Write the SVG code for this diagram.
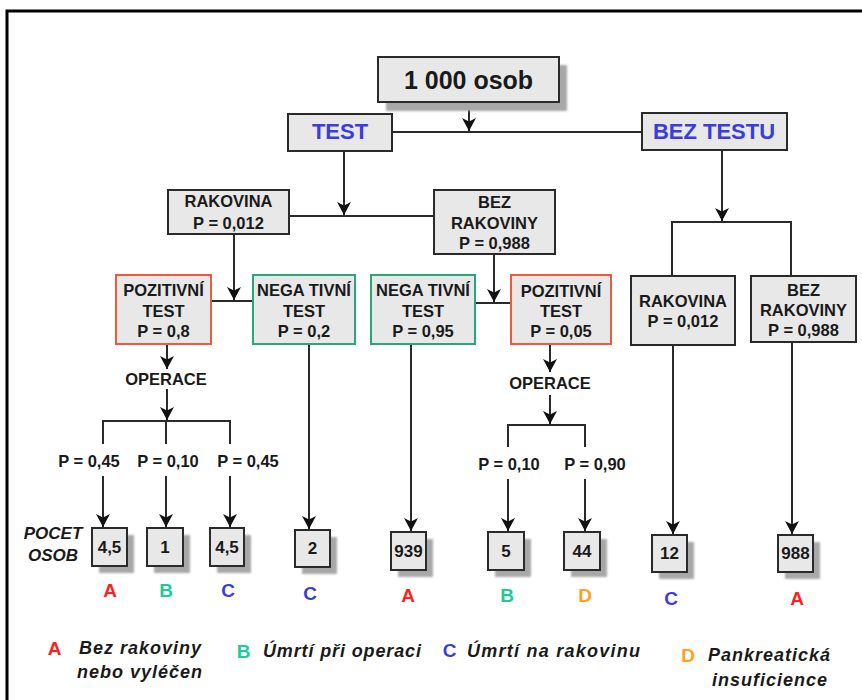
<svg xmlns="http://www.w3.org/2000/svg" width="862" height="700" viewBox="0 0 862 700">
<style>
.box{fill:#e8e8e8;stroke:#2a2a2a;stroke-width:2}
.poz{fill:#e8e8e8;stroke:#f05a3c;stroke-width:2}
.neg{fill:#e8e8e8;stroke:#2aa67c;stroke-width:2}
.sh{fill:#a8a8a8;filter:url(#blur)}
.t{font-family:"Liberation Sans",Arial,sans-serif;font-weight:bold;font-size:16.5px;fill:#1a1a1a;text-anchor:middle}
.big{font-size:25px}
.blue{font-size:22px;fill:#3c3cd8}
.num{font-size:17px}
.let{font-size:19px}
.lg{font-family:"Liberation Sans",Arial,sans-serif;font-weight:bold;font-style:italic;font-size:18px;fill:#1a1a1a}
.ln{stroke:#2a2a2a;stroke-width:2;fill:none}
.ar{stroke:#2a2a2a;stroke-width:2;fill:none;marker-end:url(#arr)}
.cA{fill:#ff2020}.cB{fill:#1ccc99}.cC{fill:#3c3cd8}.cD{fill:#ffa020}
</style>
<defs>
<filter id="blur" x="-20%" y="-20%" width="140%" height="140%"><feGaussianBlur stdDeviation="1.2"/></filter>
<marker id="arr" markerWidth="16" markerHeight="14" refX="13" refY="7" orient="auto" markerUnits="userSpaceOnUse">
<path d="M0,0 L13,7 L0,14 L3.5,7 z" fill="#111"/>
</marker>
</defs>
<rect x="7" y="11" width="880" height="720" fill="none" stroke="#000" stroke-width="3"/>

<g id="connectors">
<path class="ar" d="M469,102 V131"/>
<path class="ln" d="M392,132 H642"/>
<path class="ar" d="M344,151 V215"/>
<path class="ln" d="M289,216 H434"/>
<path class="ar" d="M722,150 V221"/>
<path class="ln" d="M672,276 V222 H791 V276"/>
<path class="ar" d="M234,234 V300"/>
<path class="ln" d="M211,301 H253"/>
<path class="ar" d="M494,254 V302"/>
<path class="ln" d="M475,303 H511"/>
<path class="ar" d="M167,344 V369"/>
<path class="ar" d="M167,389 V420"/>
<path class="ln" d="M103,444 V421 H230 V444 M166,421 V444"/>
<path class="ar" d="M103,476 V527"/>
<path class="ar" d="M166,476 V527"/>
<path class="ar" d="M230,476 V527"/>
<path class="ar" d="M309,344 V529"/>
<path class="ar" d="M411,344 V531"/>
<path class="ar" d="M550,344 V372"/>
<path class="ar" d="M550,395 V424"/>
<path class="ln" d="M508,447 V425 H585 V447"/>
<path class="ar" d="M508,479 V531"/>
<path class="ar" d="M585,479 V531"/>
<path class="ar" d="M673,345 V534"/>
<path class="ar" d="M792,342 V534"/>
</g>

<g id="n-osob">
<rect class="sh" x="386" y="65" width="181" height="46"/>
<rect class="box" x="378" y="57" width="181" height="45"/>
<text class="t big" x="468.5" y="89">1 000 osob</text>
</g>
<g id="n-test">
<rect class="box" x="288" y="114" width="104" height="37"/>
<text class="t blue" x="340" y="139">TEST</text>
</g>
<g id="n-beztestu">
<rect class="box" x="642" y="113" width="145" height="37"/>
<text class="t blue" x="714" y="139">BEZ TESTU</text>
</g>
<g id="n-rak1">
<rect class="box" x="168" y="190" width="121" height="44"/>
<text class="t" x="228.5" y="207">RAKOVINA</text>
<text class="t" x="228.5" y="229">P = 0,012</text>
</g>
<g id="n-bezrak1">
<rect class="box" x="434" y="190" width="121" height="64"/>
<text class="t" x="494.5" y="208">BEZ</text>
<text class="t" x="494.5" y="229">RAKOVINY</text>
<text class="t" x="494.5" y="249">P = 0,988</text>
</g>
<g id="n-poz1">
<rect class="poz" x="116" y="275" width="95" height="69"/>
<text class="t" x="163.5" y="296">POZITIVNÍ</text>
<text class="t" x="163.5" y="317">TEST</text>
<text class="t" x="163.5" y="337">P = 0,8</text>
</g>
<g id="n-neg1">
<rect class="neg" x="253" y="275" width="102" height="69"/>
<text class="t" x="304" y="296">NEGA TIVNÍ</text>
<text class="t" x="304" y="317">TEST</text>
<text class="t" x="304" y="337">P = 0,2</text>
</g>
<g id="n-neg2">
<rect class="neg" x="371" y="275" width="104" height="69"/>
<text class="t" x="423" y="296">NEGA TIVNÍ</text>
<text class="t" x="423" y="317">TEST</text>
<text class="t" x="423" y="337">P = 0,95</text>
</g>
<g id="n-poz2">
<rect class="poz" x="511" y="275" width="100" height="69"/>
<text class="t" x="561" y="297">POZITIVNÍ</text>
<text class="t" x="561" y="317">TEST</text>
<text class="t" x="561" y="337">P = 0,05</text>
</g>
<g id="n-rak2">
<rect class="box" x="631" y="276" width="104" height="69"/>
<text class="t" x="683" y="307">RAKOVINA</text>
<text class="t" x="683" y="327">P = 0,012</text>
</g>
<g id="n-bezrak2">
<rect class="box" x="751" y="276" width="105" height="66"/>
<text class="t" x="803.5" y="296">BEZ</text>
<text class="t" x="803.5" y="316">RAKOVINY</text>
<text class="t" x="803.5" y="336">P = 0,988</text>
</g>

<g id="n-operace1"><text class="t" x="166" y="385">OPERACE</text></g>
<g id="n-operace2"><text class="t" x="550" y="389">OPERACE</text></g>
<g id="labels-p">
<text class="t" x="89" y="466.5">P = 0,45</text>
<text class="t" x="168" y="466.5">P = 0,10</text>
<text class="t" x="248" y="466.5">P = 0,45</text>
<text class="t" x="509" y="470">P = 0,10</text>
<text class="t" x="595" y="470">P = 0,90</text>
</g>
<g id="n-pocet">
<text class="lg" x="53" y="539" text-anchor="middle" style="font-size:17px">POCET</text>
<text class="lg" x="53" y="561" text-anchor="middle" style="font-size:17px">OSOB</text>
</g>

<g id="r1"><rect class="sh" x="99" y="535" width="35" height="38"/><rect class="box" x="92" y="528" width="35" height="38"/><text class="t num" x="109.5" y="553">4,5</text></g>
<g id="r2"><rect class="sh" x="154" y="535" width="36" height="38"/><rect class="box" x="147" y="528" width="36" height="38"/><text class="t num" x="165" y="553">1</text></g>
<g id="r3"><rect class="sh" x="217" y="535" width="34" height="38"/><rect class="box" x="210" y="528" width="34" height="38"/><text class="t num" x="227" y="553">4,5</text></g>
<g id="r4"><rect class="sh" x="302" y="537" width="35" height="37"/><rect class="box" x="295" y="530" width="35" height="37"/><text class="t num" x="312.5" y="554">2</text></g>
<g id="r5"><rect class="sh" x="398" y="539" width="35" height="38"/><rect class="box" x="391" y="532" width="35" height="38"/><text class="t num" x="408.5" y="557">939</text></g>
<g id="r6"><rect class="sh" x="495" y="539" width="36" height="38"/><rect class="box" x="488" y="532" width="36" height="38"/><text class="t num" x="506" y="557">5</text></g>
<g id="r7"><rect class="sh" x="571" y="539" width="36" height="38"/><rect class="box" x="564" y="532" width="36" height="38"/><text class="t num" x="582" y="557">44</text></g>
<g id="r8"><rect class="sh" x="659" y="542" width="35" height="37"/><rect class="box" x="652" y="535" width="35" height="37"/><text class="t num" x="669.5" y="559">12</text></g>
<g id="r9"><rect class="sh" x="785" y="542" width="35" height="37"/><rect class="box" x="778" y="535" width="35" height="37"/><text class="t num" x="795.5" y="559">988</text></g>

<g id="outcomes">
<text class="t let cA" x="110" y="597">A</text>
<text class="t let cB" x="166" y="597">B</text>
<text class="t let cC" x="228" y="597">C</text>
<text class="t let cC" x="310" y="600">C</text>
<text class="t let cA" x="408" y="602">A</text>
<text class="t let cB" x="507" y="602">B</text>
<text class="t let cD" x="585" y="602">D</text>
<text class="t let cC" x="671" y="605">C</text>
<text class="t let cA" x="797" y="605">A</text>
</g>

<g id="legend">
<text class="t let cA" x="54.5" y="655">A</text>
<text class="lg" x="79" y="654" textLength="122" lengthAdjust="spacing">Bez rakoviny</text>
<text class="lg" x="77" y="677.5" textLength="125" lengthAdjust="spacing">nebo vyléčen</text>
<text class="t let cB" x="243.5" y="658">B</text>
<text class="lg" x="263" y="657" textLength="158" lengthAdjust="spacing">Úmrtí při operaci</text>
<text class="t let cC" x="449.5" y="657">C</text>
<text class="lg" x="467" y="657" textLength="173" lengthAdjust="spacing">Úmrtí na rakovinu</text>
<text class="t let cD" x="688" y="662">D</text>
<text class="lg" x="708" y="661" textLength="122" lengthAdjust="spacing">Pankreatická</text>
<text class="lg" x="712" y="686" textLength="115" lengthAdjust="spacing">insuficience</text>
</g>
</svg>
